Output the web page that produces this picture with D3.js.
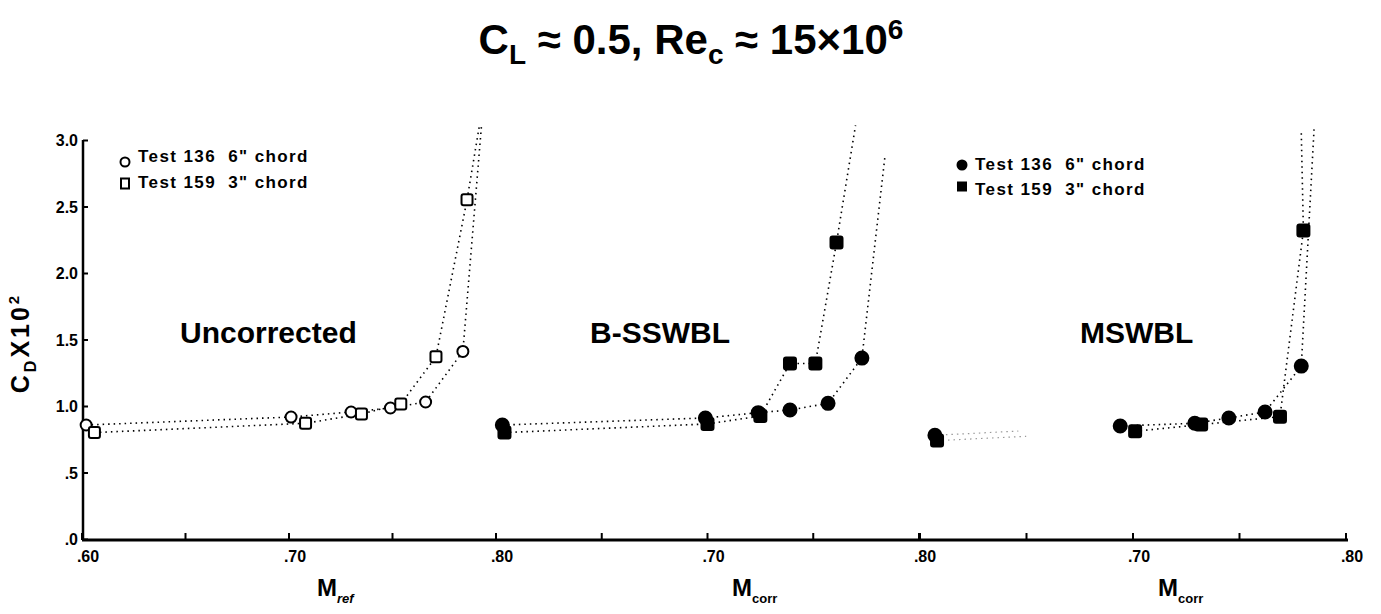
<!DOCTYPE html>
<html>
<head>
<meta charset="utf-8">
<script src="https://cdn.jsdelivr.net/npm/d3@7"></script>
<style>
  body { margin: 0; background: #fff; }
  text { font-family: "Liberation Sans", Arial, sans-serif; font-weight: bold; fill: #000; white-space: pre; }
</style>
</head>
<body>
<svg id="chart" width="1381" height="614"></svg>
<script>
"use strict";

// data: [Mach, CD x 10^2]
var uncorr136 = [[.602,.857],[.701,.917],[.730,.955],[.749,.985],[.766,1.03],[.784,1.41]];
var uncorr159 = [[.606,.80],[.708,.87],[.735,.94],[.754,1.015],[.771,1.37],[.786,2.55]];
var bss136 = [[.603,.857],[.699,.91],[.724,.95],[.739,.97],[.757,1.02],[.773,1.36]];
var bss159 = [[.604,.80],[.700,.865],[.725,.925],[.739,1.32],[.751,1.32],[.761,2.23]];
var msw136 = [[.607,.78],[.694,.85],[.729,.87],[.745,.91],[.762,.955],[.779,1.30]];
var msw159 = [[.608,.74],[.701,.81],[.732,.86],[.769,.92],[.780,2.32]];

// where the dotted lines run off the top
var tail136 = [[.793,3.11],[.784,2.89],[.785,3.08]];
var tail159 = [[.792,3.11],[.770,3.11],[.779,3.06]];

var panelNames = ["Uncorrected", "B-SSWBL", "MSWBL"];
var xTitles = ["ref", "corr", "corr"];
var yTicks = [0, .5, 1, 1.5, 2, 2.5, 3];
var yTickLabels = [".0", ".5", "1.0", "1.5", "2.0", "2.5", "3.0"];
var xTicks = [.60, .65, .70, .75, .80];
var legendLabels = ["Test 136  6\" chord", "Test 159  3\" chord"];

var svg = d3.select("#chart");

var y = d3.scaleLinear().domain([0, 3]).range([539, 140]);

var panels = [
    { x: d3.scaleLinear().domain([.60, .80]).range([82, 496]), s136: uncorr136, s159: uncorr159, filled: false, labels: [.60, .70, .80], nameX: 180, titleX: 317 },
    { x: d3.scaleLinear().domain([.60, .80]).range([496, 919]), s136: bss136, s159: bss159, filled: true, labels: [.70, .80], nameX: 590, titleX: 732 },
    { x: d3.scaleLinear().domain([.60, .80]).range([920, 1346]), s136: msw136, s159: msw159, filled: true, labels: [.70, .80], nameX: 1080, titleX: 1158 }
];


    // title

var title = svg.append("text")
    .attr("x", 691)
    .attr("y", 54)
    .attr("text-anchor", "middle")
    .style("font-size", "42px");

title.append("tspan").text("C");
title.append("tspan").attr("dy", 10).style("font-size", "28px").text("L");
title.append("tspan").attr("dy", -10).text(" \u2248 0.5, Re");
title.append("tspan").attr("dy", 10).style("font-size", "28px").text("c");
title.append("tspan").attr("dy", -10).text(" \u2248 15\u00d710");
title.append("tspan").attr("dy", -15).style("font-size", "28px").text("6");


    // y axis

var yAxis = svg.append("g").attr("transform", "translate(83,0)")
    .call(d3.axisRight(y).tickValues(yTicks).tickSize(5).tickFormat(""));

yAxis.select(".domain").attr("stroke-width", 2.5).attr("d", "M0," + y(3) + "V" + y(0));
yAxis.selectAll(".tick line").attr("stroke-width", 2);

svg.append("g").selectAll("text")
    .data(yTicks)
    .join("text")
        .attr("x", 78)
        .attr("y", d => y(d) + 6)
        .attr("text-anchor", "end")
        .style("font-size", "16px")
        .text((d, i) => yTickLabels[i]);

var yTitle = svg.append("text")
    .attr("transform", "translate(29,343) rotate(-90)")
    .attr("text-anchor", "middle")
    .style("font-size", "25px")
    .style("letter-spacing", "3px");

yTitle.append("tspan").text("C");
yTitle.append("tspan").attr("dy", 7).style("font-size", "16px").text("D");
yTitle.append("tspan").attr("dy", -7).text("X10");
yTitle.append("tspan").attr("dy", -10).style("font-size", "15px").text("2");


    // x axis line

svg.append("line")
    .attr("x1", 82).attr("x2", 1348)
    .attr("y1", 540).attr("y2", 540)
    .attr("stroke", "#000")
    .attr("stroke-width", 3);


var dotted = d3.line().x(d => d[0]).y(d => d[1]);

panels.forEach(function (p, i) {

    var g = svg.append("g");

        // ticks and labels

    g.selectAll(".xtick")
        .data(xTicks)
        .join("line")
            .attr("x1", d => p.x(d)).attr("x2", d => p.x(d))
            .attr("y1", 540).attr("y2", 533)
            .attr("stroke", "#000")
            .attr("stroke-width", 2);

    g.selectAll(".xlab")
        .data(p.labels)
        .join("text")
            .attr("x", d => p.x(d) + 6)
            .attr("y", 562)
            .attr("text-anchor", "middle")
            .style("font-size", "16px")
            .text(d => d3.format(".2f")(d).replace("0.", "."));

    var xt = g.append("text")
        .attr("x", p.titleX)
        .attr("y", 596)
        .style("font-size", "24px");

    xt.append("tspan").text("M");
    xt.append("tspan").attr("dy", 7).style("font-size", "13px").style("font-style", i ? "normal" : "italic").text(xTitles[i]);

    g.append("text")
        .attr("x", p.nameX)
        .attr("y", 343)
        .style("font-size", "30px")
        .text(panelNames[i]);

        // dotted curves

    [[p.s136, tail136[i]], [p.s159, tail159[i]]].forEach(function (s) {
        var pts = s[0].concat([s[1]]).map(d => [p.x(d[0]), y(d[1])]);
        var first = pts.slice(0, 2);

        if (i === 2) {
            // the copy loses most of the first MSWBL segment
            pts = pts.slice(1);
            first = [first[0], d3.interpolate(first[0], first[1])(0.45)];
            g.append("path")
                .attr("d", dotted(first))
                .attr("fill", "none")
                .attr("stroke", "#999")
                .attr("stroke-width", 1.2)
                .attr("stroke-dasharray", "1.5,4");
        }

        g.append("path")
            .attr("d", dotted(pts))
            .attr("fill", "none")
            .attr("stroke", "#000")
            .attr("stroke-width", 1.6)
            .attr("stroke-dasharray", "1.5,4");
    });

        // markers

    g.selectAll(".c136")
        .data(p.s136)
        .join("circle")
            .attr("cx", d => p.x(d[0]))
            .attr("cy", d => y(d[1]))
            .attr("r", p.filled ? 6.5 : 5.5)
            .attr("fill", p.filled ? "#000" : "#fff")
            .attr("stroke", "#000")
            .attr("stroke-width", 2);

    g.selectAll(".s159")
        .data(p.s159)
        .join("rect")
            .attr("x", d => p.x(d[0]) - (p.filled ? 6 : 5.5))
            .attr("y", d => y(d[1]) - (p.filled ? 6 : 5.5))
            .attr("width", p.filled ? 12 : 11)
            .attr("height", p.filled ? 12 : 11)
            .attr("rx", 2)
            .attr("fill", p.filled ? "#000" : "#fff")
            .attr("stroke", "#000")
            .attr("stroke-width", 2);
});


    // legends

function legend(cx, cy, sy, ty, gap, filled) {

    var g = svg.append("g");

    g.append("circle")
        .attr("cx", cx).attr("cy", cy)
        .attr("r", filled ? 4.5 : 4.5)
        .attr("fill", filled ? "#000" : "#fff")
        .attr("stroke", "#000")
        .attr("stroke-width", 2);

    g.append("rect")
        .attr("x", cx - 4).attr("y", sy - 4.5)
        .attr("width", 8).attr("height", filled ? 8 : 10)
        .attr("fill", filled ? "#000" : "#fff")
        .attr("stroke", "#000")
        .attr("stroke-width", 2);

    g.selectAll("text")
        .data(legendLabels)
        .join("text")
            .attr("x", cx + 13)
            .attr("y", (d, i) => ty + i * gap)
            .style("font-size", "17px")
            .style("letter-spacing", "1.4px")
            .text(d => d);
}

legend(125, 162, 183, 162, 26, false);
legend(962, 165, 187, 170, 25, true);

</script>
</body>
</html>
